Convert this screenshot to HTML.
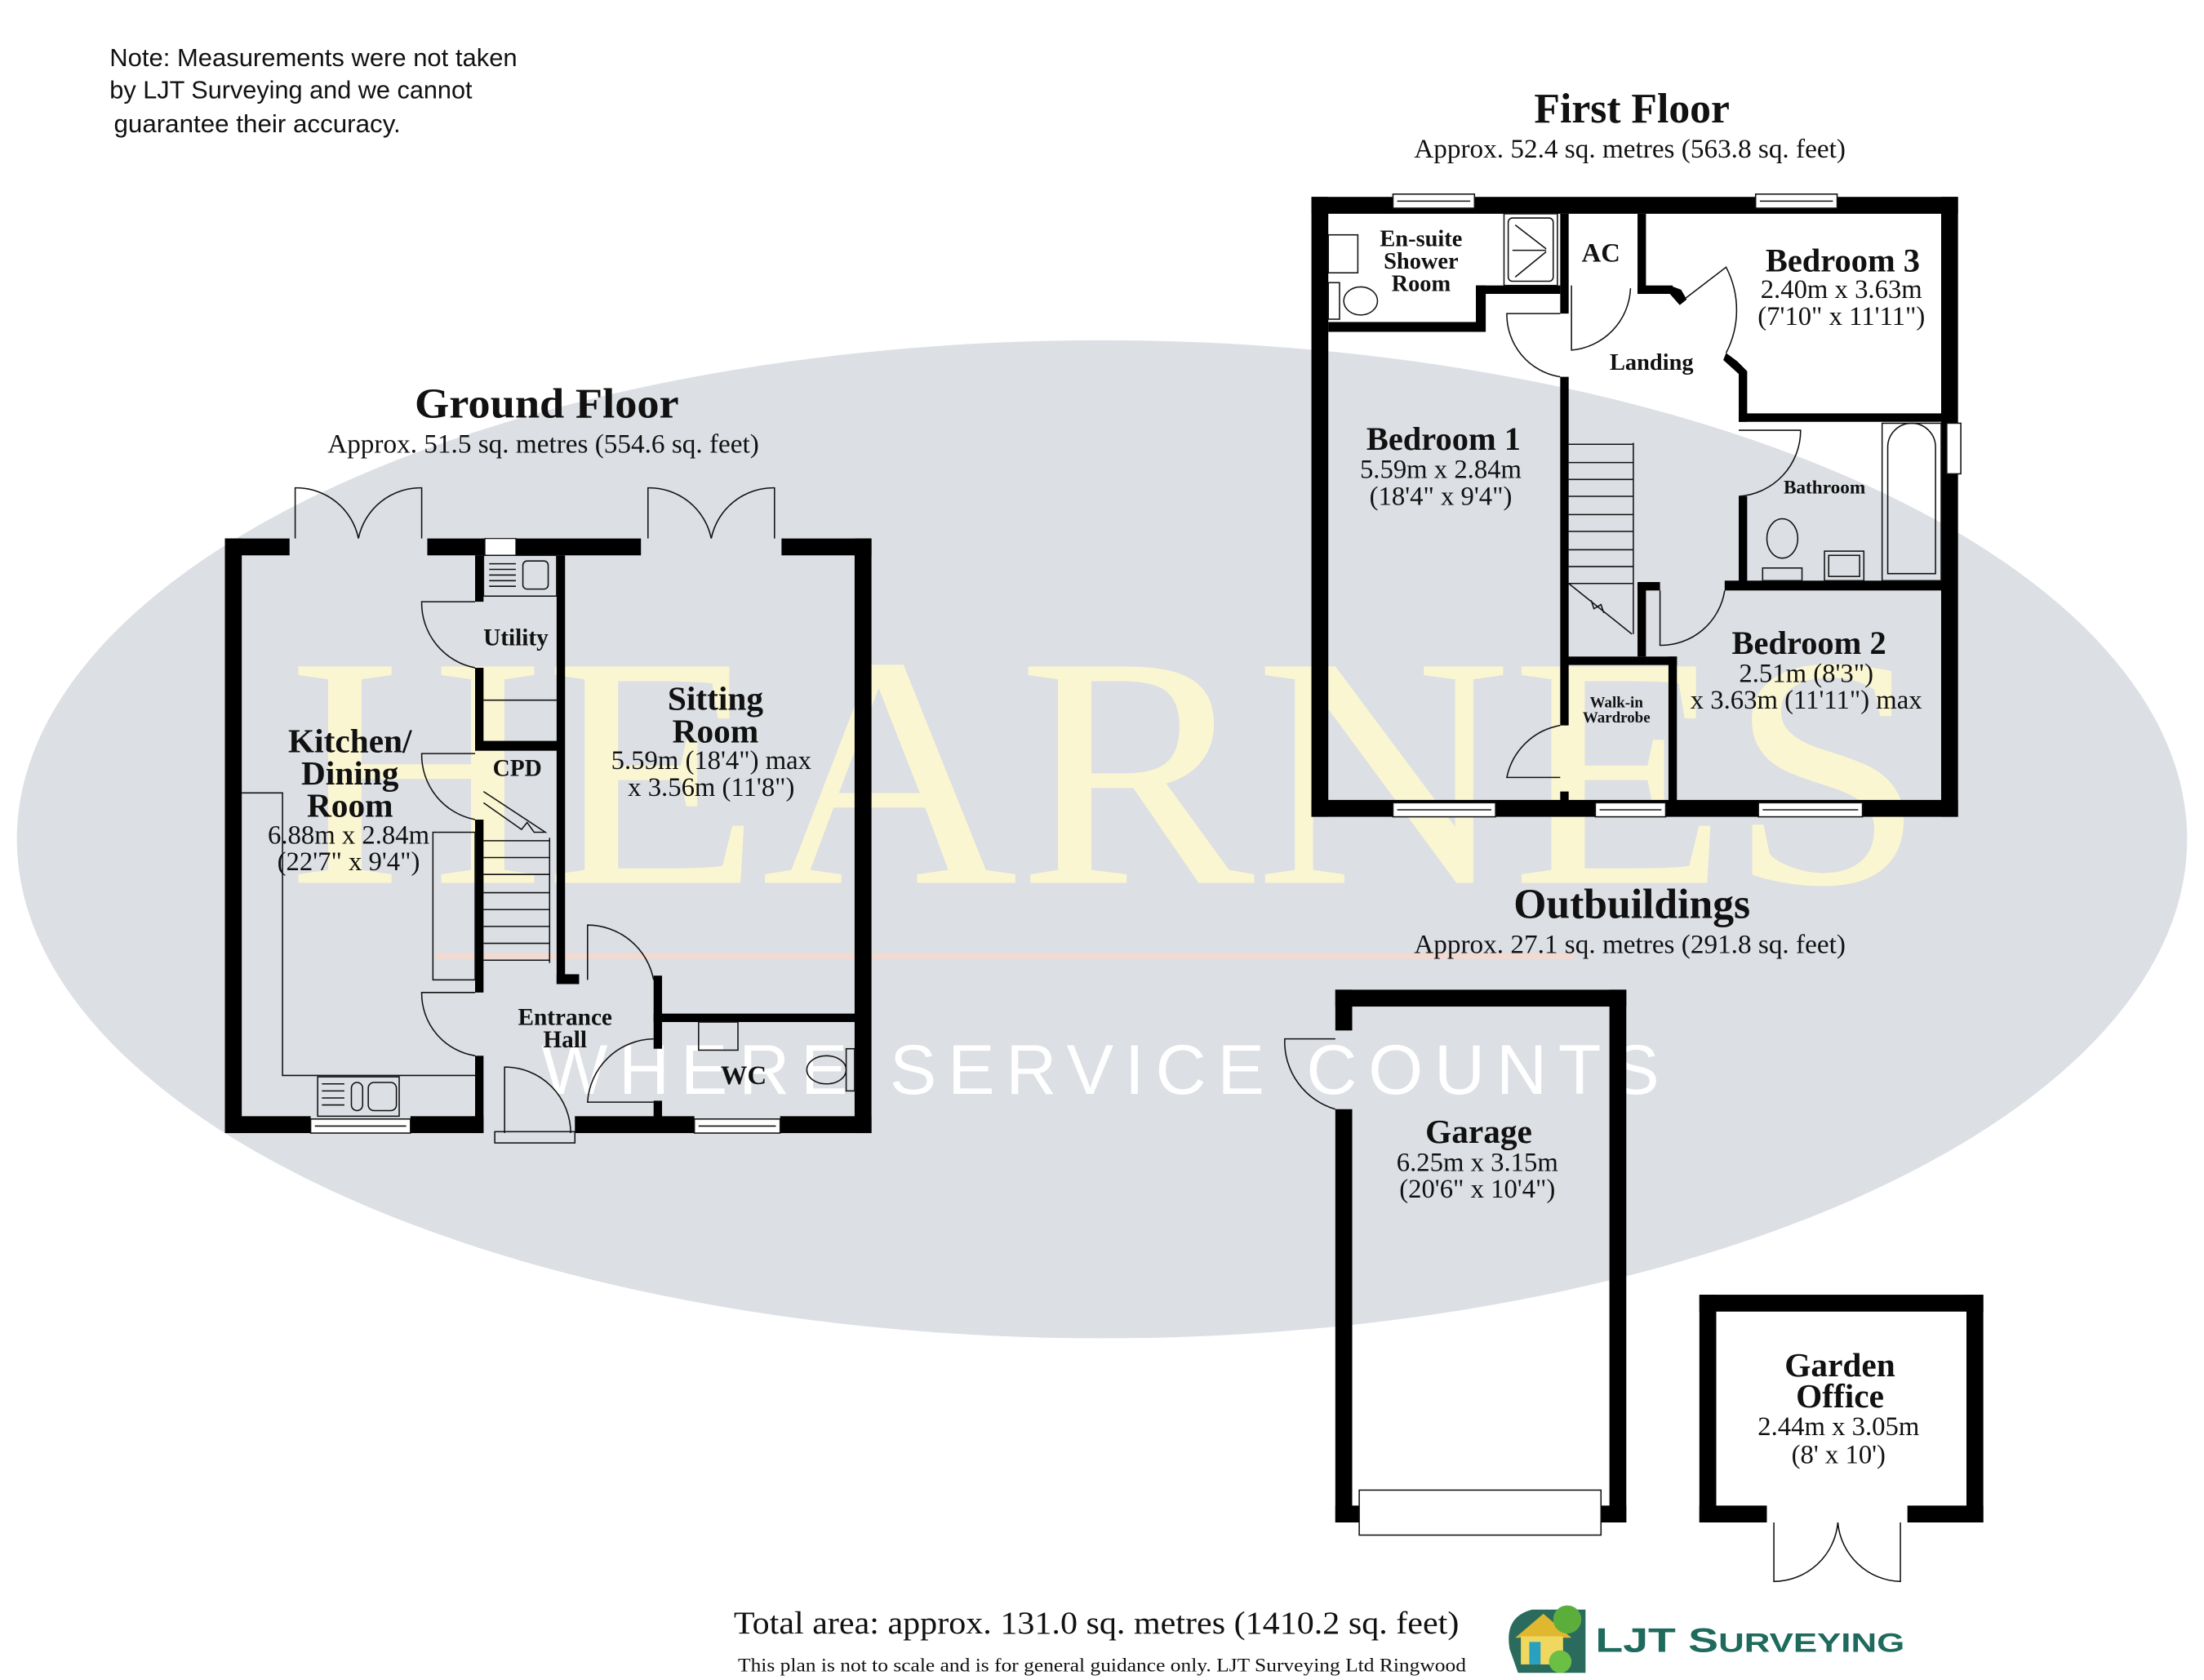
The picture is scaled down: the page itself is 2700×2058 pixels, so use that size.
<!DOCTYPE html>
<html><head><meta charset="utf-8"><style>
html,body{margin:0;padding:0;background:#fff;}
svg{display:block;}
.s{font-family:"Liberation Serif",serif;fill:#111;}
.b{font-weight:bold;}
.w{fill:#000;}
.t{fill:none;stroke:#111;stroke-width:0.9;}
</style></head><body>
<svg width="2700" height="2058" viewBox="0 0 1568 1195" xmlns="http://www.w3.org/2000/svg">
<rect width="1568" height="1195" fill="#fff"/>
<ellipse cx="784" cy="597" rx="772" ry="355" fill="#dcdfe4"/>
<text x="205" y="628" textLength="1165" lengthAdjust="spacingAndGlyphs" font-family="Liberation Serif,serif" font-size="235" fill="#fbf6d2">HEARNES</text>
<line x1="310" y1="680" x2="1120" y2="680" stroke="#f3d9cf" stroke-width="4"/>
<text x="385" y="778" font-family="Liberation Sans,sans-serif" font-size="50" fill="#fff" letter-spacing="8">WHERE SERVICE COUNTS</text>

<g font-family="Liberation Sans,sans-serif" font-size="17.5" fill="#111">
<text x="78" y="47" textLength="290" lengthAdjust="spacingAndGlyphs">Note: Measurements were not taken</text>
<text x="78" y="70" textLength="258" lengthAdjust="spacingAndGlyphs">by LJT Surveying and we cannot</text>
<text x="81" y="94" textLength="204" lengthAdjust="spacingAndGlyphs">guarantee their accuracy.</text>
</g>

<text class="s b" x="295" y="297" font-size="30" textLength="188" lengthAdjust="spacingAndGlyphs">Ground Floor</text>
<text class="s" x="233" y="322" font-size="19" textLength="307" lengthAdjust="spacingAndGlyphs">Approx. 51.5 sq. metres (554.6 sq. feet)</text>
<g class="w">
<rect x="160" y="383" width="12" height="423"/>
<rect x="160" y="794" width="61" height="12"/>
<rect x="292" y="794" width="52" height="12"/>
<rect x="409" y="794" width="85" height="12"/>
<rect x="555" y="794" width="65" height="12"/>
<rect x="608" y="383" width="12" height="423"/>
<rect x="160" y="383" width="46" height="12"/>
<rect x="304" y="383" width="152" height="12"/>
<rect x="556" y="383" width="64" height="12"/>
<rect x="338" y="395" width="6" height="33"/>
<rect x="338" y="475" width="6" height="58"/>
<rect x="338" y="583" width="6" height="123"/>
<rect x="338" y="751" width="6" height="55"/>
<rect x="338" y="527" width="59" height="7"/>
<rect x="396" y="395" width="6" height="305"/>
<rect x="396" y="693" width="16" height="7"/>
<rect x="465" y="694" width="6" height="52"/>
<rect x="465" y="783" width="6" height="12"/>
<rect x="465" y="721" width="145" height="6"/>
</g>
<rect x="345" y="383" width="22" height="12" fill="#fff" stroke="#111" stroke-width="0.7"/>
<g class="t">
<path d="M210 383 V347 A45 45 0 0 1 255 383"/><path d="M300 383 V347 A45 45 0 0 0 255 383"/>
<path d="M461 383 V347 A45 45 0 0 1 506 383"/><path d="M551 383 V347 A45 45 0 0 0 506 383"/>
<rect x="221" y="796" width="71" height="10" fill="#fff"/><line x1="224" y1="801" x2="289" y2="801"/>
<rect x="494" y="796" width="61" height="10" fill="#fff"/><line x1="497" y1="801" x2="552" y2="801"/>
<rect x="344" y="395" width="52" height="29"/>
<line x1="348" y1="401" x2="367" y2="401"/><line x1="348" y1="405" x2="367" y2="405"/><line x1="348" y1="409" x2="367" y2="409"/><line x1="348" y1="413" x2="367" y2="413"/><line x1="348" y1="417" x2="367" y2="417"/>
<rect x="372" y="399" width="18" height="20" rx="3"/>
<line x1="344" y1="498" x2="396" y2="498"/>
<path d="M338 428 H300 A47 47 0 0 0 338 475"/>
<path d="M338 536 H300 A47 47 0 0 0 338 583"/>
<path d="M172 564 H201 V765 H338"/>
<rect x="308" y="592" width="30" height="105"/>
<rect x="226" y="766" width="58" height="28"/>
<line x1="229" y1="771" x2="245" y2="771"/><line x1="229" y1="776" x2="245" y2="776"/><line x1="229" y1="781" x2="245" y2="781"/><line x1="229" y1="786" x2="245" y2="786"/>
<rect x="250" y="770" width="8" height="20" rx="4"/><rect x="262" y="770" width="20" height="20" rx="4"/>
<path d="M344 563 L388 592 L380 592 L375 585 L371 590 L344 571"/>
<line x1="344" y1="598" x2="391" y2="598"/><line x1="344" y1="610" x2="391" y2="610"/><line x1="344" y1="622" x2="391" y2="622"/><line x1="344" y1="635" x2="391" y2="635"/><line x1="344" y1="647" x2="391" y2="647"/><line x1="344" y1="659" x2="391" y2="659"/><line x1="344" y1="671" x2="391" y2="671"/><line x1="344" y1="683" x2="391" y2="683"/>
<line x1="391" y1="596" x2="391" y2="685"/>
<path d="M338 706 H300 A45 45 0 0 0 338 751"/>
<path d="M418 697 V658 A48 48 0 0 1 465 697"/>
<path d="M465 739 A48 48 0 0 0 418 784 H465"/>
<path d="M359 806 V759 A47 47 0 0 1 406 806"/>
<rect x="352" y="805" width="57" height="8"/>
<rect x="497" y="727" width="28" height="20"/>
<rect x="602" y="746" width="6" height="30"/>
<ellipse cx="588" cy="761" rx="14" ry="10"/>
</g>
<g class="s" text-anchor="middle">
<text class="b" x="249" y="535" font-size="24">Kitchen/</text>
<text class="b" x="249" y="558" font-size="24">Dining</text>
<text class="b" x="249" y="581" font-size="24">Room</text>
<text x="248" y="600" font-size="19">6.88m x 2.84m</text>
<text x="248" y="619" font-size="19">(22'7" x 9'4")</text>
<text class="b" x="367" y="459" font-size="17">Utility</text>
<text class="b" x="368" y="552" font-size="17">CPD</text>
<text class="b" x="509" y="505" font-size="24">Sitting</text>
<text class="b" x="509" y="528" font-size="24">Room</text>
<text x="506" y="547" font-size="19">5.59m (18'4") max</text>
<text x="506" y="566" font-size="19">x 3.56m (11'8")</text>
<text class="b" x="402" y="729" font-size="17">Entrance</text>
<text class="b" x="402" y="745" font-size="17">Hall</text>
<text class="b" x="529" y="771" font-size="19">WC</text>
</g>

<text class="s b" x="1161" y="87" font-size="30" text-anchor="middle">First Floor</text>
<text class="s" x="1006" y="112" font-size="19" textLength="307" lengthAdjust="spacingAndGlyphs">Approx. 52.4 sq. metres (563.8 sq. feet)</text>
<g class="w">
<rect x="933" y="140" width="460" height="12"/>
<rect x="933" y="140" width="12" height="441"/>
<rect x="1381" y="140" width="12" height="441"/>
<rect x="933" y="569" width="460" height="12"/>
<rect x="945" y="229" width="111" height="7"/>
<rect x="1050" y="203" width="7" height="33"/>
<rect x="1050" y="203" width="60" height="6"/>
<rect x="1110" y="152" width="6" height="71"/>
<rect x="1110" y="268" width="6" height="248"/>
<rect x="1110" y="563" width="6" height="8"/>
<rect x="1165" y="152" width="6" height="57"/>
<rect x="1165" y="203" width="25" height="6"/>
<polygon points="1188,203 1196,206 1200,213 1195,217 1188,209"/>
<polygon points="1228,251 1236,257 1243,264 1243,300 1237,300 1237,266 1226,256"/>
<rect x="1237" y="294" width="144" height="6"/>
<rect x="1237" y="353" width="6" height="61"/>
<rect x="1227" y="413" width="154" height="7"/>
<rect x="1165" y="414" width="16" height="6"/>
<rect x="1165" y="414" width="6" height="53"/>
<rect x="1111" y="467" width="82" height="6"/>
<rect x="1187" y="467" width="6" height="104"/>
</g>
<g class="t">
<rect x="991" y="138" width="58" height="10" fill="#fff"/><line x1="994" y1="143" x2="1046" y2="143"/>
<rect x="1249" y="138" width="58" height="10" fill="#fff"/><line x1="1252" y1="143" x2="1304" y2="143"/>
<rect x="991" y="571" width="73" height="10" fill="#fff"/><line x1="994" y1="576" x2="1061" y2="576"/>
<rect x="1135" y="571" width="50" height="10" fill="#fff"/><line x1="1138" y1="576" x2="1182" y2="576"/>
<rect x="1251" y="571" width="74" height="10" fill="#fff"/><line x1="1254" y1="576" x2="1322" y2="576"/>
<rect x="1385" y="301" width="10" height="36" fill="#fff"/>
<rect x="945" y="167" width="21" height="27"/>
<ellipse cx="968" cy="214" rx="12" ry="10"/><rect x="945" y="201" width="8" height="26"/>
<rect x="1070" y="152" width="38" height="51"/>
<rect x="1073" y="155" width="32" height="45" rx="3"/>
<path d="M1076 178 H1100 M1078 160 L1100 177 M1078 197 L1100 179"/>
<path d="M1110 223 H1072 A45 45 0 0 0 1110 268"/>
<path d="M1118 203 V249 A46 46 0 0 0 1160 205"/>
<path d="M1198 213 L1228 190 A66 66 0 0 1 1228 251"/>
<path d="M1237 306 H1281 A47 47 0 0 1 1237 353"/>
<path d="M1181 420 V459 A46 46 0 0 0 1227 420"/>
<path d="M1110 516 A47 47 0 0 0 1072 553 H1110"/>
<line x1="1116" y1="316" x2="1162" y2="316"/>
<line x1="1116" y1="329" x2="1162" y2="329"/><line x1="1116" y1="341" x2="1162" y2="341"/><line x1="1116" y1="353" x2="1162" y2="353"/><line x1="1116" y1="366" x2="1162" y2="366"/><line x1="1116" y1="378" x2="1162" y2="378"/><line x1="1116" y1="391" x2="1162" y2="391"/><line x1="1116" y1="403" x2="1162" y2="403"/><line x1="1116" y1="415" x2="1162" y2="415"/>
<line x1="1162" y1="315" x2="1162" y2="451"/>
<path d="M1116 415 L1161 451 M1132 427 L1134 433 L1139 430 L1141 436"/>
<rect x="1339" y="301" width="42" height="112"/>
<path d="M1343 408 V318 A17 17 0 0 1 1377 318 V408 Z"/>
<ellipse cx="1268" cy="383" rx="11" ry="14"/><rect x="1254" y="404" width="28" height="9"/>
<rect x="1298" y="392" width="28" height="21"/><rect x="1301" y="395" width="22" height="15"/>
</g>
<g class="s" text-anchor="middle">
<text class="b" x="1011" y="175" font-size="16.5">En-suite</text>
<text class="b" x="1011" y="191" font-size="16.5">Shower</text>
<text class="b" x="1011" y="207" font-size="16.5">Room</text>
<text class="b" x="1139" y="186" font-size="19">AC</text>
<text class="b" x="1311" y="193" font-size="23.5">Bedroom 3</text>
<text x="1310" y="212" font-size="19">2.40m x 3.63m</text>
<text x="1310" y="231" font-size="19">(7'10" x 11'11")</text>
<text class="b" x="1175" y="263" font-size="16.5">Landing</text>
<text class="b" x="1027" y="320" font-size="23.5">Bedroom 1</text>
<text x="1025" y="340" font-size="19">5.59m x 2.84m</text>
<text x="1025" y="359" font-size="19">(18'4" x 9'4")</text>
<text class="b" x="1298" y="351" font-size="13.5">Bathroom</text>
<text class="b" x="1287" y="465" font-size="23.5">Bedroom 2</text>
<text x="1285" y="485" font-size="19">2.51m (8'3")</text>
<text x="1285" y="504" font-size="19">x 3.63m (11'11") max</text>
<text class="b" x="1150" y="503" font-size="11">Walk-in</text>
<text class="b" x="1150" y="514" font-size="11">Wardrobe</text>
</g>

<text class="s b" x="1161" y="653" font-size="30" text-anchor="middle">Outbuildings</text>
<text class="s" x="1006" y="678" font-size="19" textLength="307" lengthAdjust="spacingAndGlyphs">Approx. 27.1 sq. metres (291.8 sq. feet)</text>
<g class="w">
<rect x="950" y="704" width="207" height="12"/>
<rect x="950" y="704" width="12" height="29"/>
<rect x="950" y="789" width="12" height="294"/>
<rect x="1145" y="704" width="12" height="379"/>
<rect x="950" y="1071" width="207" height="12"/>
<rect x="1209" y="921" width="202" height="12"/>
<rect x="1209" y="921" width="12" height="162"/>
<rect x="1399" y="921" width="12" height="162"/>
<rect x="1209" y="1071" width="48" height="12"/>
<rect x="1357" y="1071" width="54" height="12"/>
</g>
<g class="t">
<rect x="967" y="1060" width="172" height="32" fill="#fff"/>
<path d="M950 739 H914 A50 50 0 0 0 950 789"/>
<path d="M1262 1083 V1125 A46 46 0 0 0 1307.5 1083"/>
<path d="M1352 1083 V1125 A46 46 0 0 1 1307.5 1083"/>
</g>
<g class="s" text-anchor="middle">
<text class="b" x="1052" y="813" font-size="24">Garage</text>
<text x="1051" y="833" font-size="19">6.25m x 3.15m</text>
<text x="1051" y="852" font-size="19">(20'6" x 10'4")</text>
<text class="b" x="1309" y="979" font-size="24">Garden</text>
<text class="b" x="1309" y="1001" font-size="24">Office</text>
<text x="1308" y="1021" font-size="19">2.44m x 3.05m</text>
<text x="1308" y="1041" font-size="19">(8' x 10')</text>
</g>

<text class="s" x="522" y="1162" font-size="23" textLength="516" lengthAdjust="spacingAndGlyphs">Total area: approx. 131.0 sq. metres (1410.2 sq. feet)</text>
<text class="s" x="525" y="1189" font-size="13.5" textLength="518" lengthAdjust="spacingAndGlyphs">This plan is not to scale and is for general guidance only. LJT Surveying Ltd Ringwood</text>
<g>
<path d="M1074 1173 Q1070 1150 1090 1145 L1128 1145 L1128 1190 L1080 1190 Z" fill="#2a6b5e"/>
<polygon points="1078,1165 1098,1148 1118,1165" fill="#e0b830"/>
<rect x="1082" y="1164" width="30" height="20" fill="#f0d860"/>
<rect x="1088" y="1168" width="8" height="16" fill="#2aa0c0"/>
<circle cx="1115" cy="1152" r="10" fill="#5cae3c"/>
<circle cx="1110" cy="1182" r="8" fill="#6cbf45"/>
<text x="1135" y="1175" textLength="220" lengthAdjust="spacingAndGlyphs" font-family="Liberation Sans,sans-serif" font-weight="bold" font-size="24" fill="#1e6a5c">LJT S<tspan font-size="19">URVEYING</tspan></text>
</g>
</svg>
</body></html>
